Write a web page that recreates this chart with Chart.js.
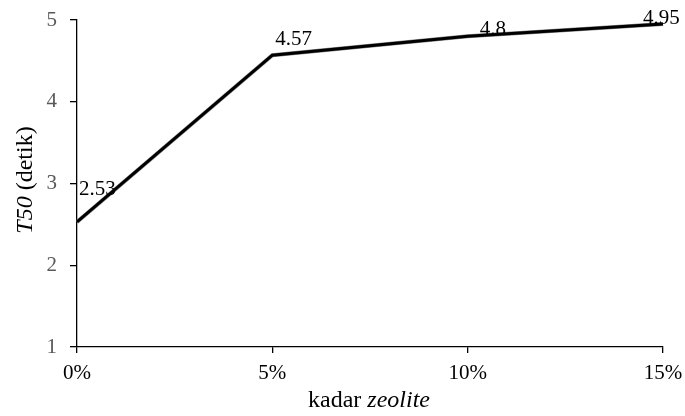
<!DOCTYPE html>
<html><head><meta charset="utf-8">
<script src="https://cdn.jsdelivr.net/npm/chart.js@4"></script>
<style>html,body{margin:0;padding:0;background:#fff}#w{width:685px;height:416px}</style>
</head><body><div id="w"><canvas id="c"></canvas></div>
<script>
const categories = ["0%", "5%", "10%", "15%"];
const t50Values = [2.53, 4.57, 4.8, 4.95];
const yTicks = [1, 2, 3, 4, 5];

const labelOffsets = [[2, -27], [3, -10], [12, -1], [-20, 0]];

const labelPlugin = {
  id: 'labels',
  afterDatasetsDraw(chart) {
    const ctx = chart.ctx;
    const meta = chart.getDatasetMeta(1);
    ctx.save();
    ctx.font = '21px "Liberation Serif", serif';
    ctx.fillStyle = '#000';
    ctx.textAlign = 'left';
    ctx.textBaseline = 'alphabetic';
    meta.data.forEach((pt, i) => {
      const o = labelOffsets[i];
      ctx.fillText(String(t50Values[i]), pt.x + o[0], pt.y + o[1]);
    });
    ctx.textBaseline = 'middle';
    const p1 = 'kadar ', p2 = 'zeolite';
    ctx.font = '24px "Liberation Serif", serif';
    const w1 = ctx.measureText(p1).width;
    ctx.font = 'italic 24px "Liberation Serif", serif';
    const w2 = ctx.measureText(p2).width;
    let x0 = 369 - (w1 + w2) / 2;
    const ty = 401;
    ctx.font = '24px "Liberation Serif", serif';
    ctx.fillText(p1, x0, ty);
    ctx.font = 'italic 24px "Liberation Serif", serif';
    ctx.fillText(p2, x0 + w1, ty);
    ctx.translate(26, 180);
    ctx.rotate(-Math.PI / 2);
    const q1 = 'T50', q2 = ' (detik)';
    ctx.font = 'italic 24px "Liberation Serif", serif';
    const v1 = ctx.measureText(q1).width;
    ctx.font = '24px "Liberation Serif", serif';
    const v2 = ctx.measureText(q2).width;
    let y0 = -(v1 + v2) / 2;
    ctx.font = 'italic 24px "Liberation Serif", serif';
    ctx.fillText(q1, y0, 0);
    ctx.font = '24px "Liberation Serif", serif';
    ctx.fillText(q2, y0 + v1, 0);
    ctx.restore();
  }
};

new Chart(document.getElementById('c'), {
  type: 'line',
  data: {
    labels: categories,
    datasets: [
      { data: t50Values, borderColor: '#8c8c8c', borderWidth: 4, pointRadius: 0, tension: 0, order: 2 },
      { data: t50Values, borderColor: '#000', borderWidth: 3, pointRadius: 0, tension: 0, order: 1 }
    ]
  },
  options: {
    responsive: true,
    maintainAspectRatio: false,
    animation: false,
    layout: { padding: { top: 20, right: 22, left: 0, bottom: 0 } },
    plugins: { legend: { display: false }, tooltip: { enabled: false } },
    scales: {
      x: {
        offset: false,
        grid: { drawOnChartArea: false, color: '#000', tickLength: 6, lineWidth: 1.3 },
        border: { color: '#000', width: 1.3 },
        ticks: { color: '#000', font: { family: '"Liberation Serif", serif', size: 21 }, padding: 8, maxRotation: 0 },
        afterFit(s) { s.height = 69; s.paddingLeft = 0; s.paddingRight = 0; }
      },
      y: {
        min: 1, max: 5,
        afterBuildTicks(s) { s.ticks = yTicks.map(v => ({ value: v })); },
        grid: { drawOnChartArea: false, color: '#000', tickLength: 7, lineWidth: 1.3 },
        border: { color: '#000', width: 1.3 },
        ticks: { color: '#595959', font: { family: '"Liberation Serif", serif', size: 21 }, padding: 13 },
        afterFit(s) { s.width = 77; s.paddingTop = 0; s.paddingBottom = 0; }
      }
    }
  },
  plugins: [labelPlugin]
});
</script>
</body></html>
